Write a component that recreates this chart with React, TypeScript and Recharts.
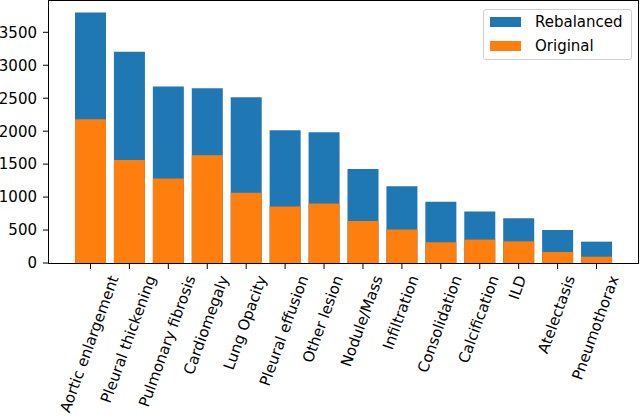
import React from 'react';
import { BarChart, Bar, XAxis, YAxis } from 'recharts';

const categories = [
  'Aortic enlargement', 'Pleural thickening', 'Pulmonary fibrosis', 'Cardiomegaly',
  'Lung Opacity', 'Pleural effusion', 'Other lesion', 'Nodule/Mass', 'Infiltration',
  'Consolidation', 'Calcification', 'ILD', 'Atelectasis', 'Pneumothorax',
];
const rebalanced = [3799, 3205, 2679, 2653, 2516, 2014, 1983, 1425, 1166, 928, 781, 679, 502, 324];
const original = [2181, 1562, 1283, 1633, 1065, 857, 903, 639, 507, 314, 355, 329, 167, 96];
const yTicks = [0, 500, 1000, 1500, 2000, 2500, 3000, 3500];
const seriesNames = ['Rebalanced', 'Original'];
const seriesColors = ['#1f77b4', '#ff7f0e'];

const rows = categories.map((name, i) => ({ name, rebalanced: rebalanced[i], original: original[i] }));

const FONT = 'DejaVu Sans';
const FS = 15;
const COS = Math.cos((70 * Math.PI) / 180);
const SIN = Math.sin((70 * Math.PI) / 180);

let ctx: CanvasRenderingContext2D | null = null;
function measure(s: string) {
  if (!ctx) {
    ctx = document.createElement('canvas').getContext('2d');
    if (ctx) ctx.font = `${FS}px "${FONT}"`;
  }
  return ctx ? ctx.measureText(s).width : s.length * 8.5;
}

// rotated label, bounding box centred on the tick like matplotlib ha='center'
function RotTick(props: any) {
  const { x, y, payload } = props;
  const s = String(payload.value);
  const L = measure(s);
  const a = FS * 0.76;
  const d = FS * 0.24;
  const tx = x - (L * COS + d * SIN - a * SIN) / 2;
  const ty = y + L * SIN + a * COS;
  return (
    <text x={0} y={0} transform={`translate(${tx},${ty}) rotate(-70)`} fontSize={FS} fontFamily={FONT} fill="#000">
      {s}
    </text>
  );
}

export default function App() {
  return (
    <div style={{ position: 'absolute', left: 0, top: 0, width: 640, height: 416, background: '#fff', fontFamily: FONT, overflow: 'hidden' }}>
      <BarChart width={640} height={416} data={rows} margin={{ top: 1, right: 2, left: 0, bottom: 0 }} barSize={31} barGap={-31}>
        <XAxis
          dataKey="name"
          interval={0}
          height={153}
          padding={{ left: 22, right: 22 }}
          axisLine={false}
          stroke="#000"
          tickSize={6}
          tickMargin={5}
          tick={<RotTick />}
        />
        <YAxis
          width={49}
          domain={[0, 3975]}
          ticks={yTicks}
          axisLine={false}
          stroke="#000"
          tickSize={6}
          tickMargin={6}
          tick={{ fill: '#000', fontSize: FS, fontFamily: FONT }}
        />
        <Bar dataKey="rebalanced" name={seriesNames[0]} fill={seriesColors[0]} isAnimationActive={false} />
        <Bar dataKey="original" name={seriesNames[1]} fill={seriesColors[1]} isAnimationActive={false} />
      </BarChart>

      {/* axes frame */}
      <div style={{ position: 'absolute', left: 48, top: 0, width: 591, height: 264, border: '1px solid #000', boxSizing: 'border-box', pointerEvents: 'none' }} />

      {/* legend */}
      <div
        style={{
          position: 'absolute', left: 483, top: 9, width: 149, height: 51, boxSizing: 'border-box',
          border: '1px solid #d0d0d0', borderRadius: 3, background: 'rgba(255,255,255,0.8)',
        }}
      >
        {seriesNames.map((n, i) => (
          <div key={n} style={{ position: 'absolute', left: 6, top: 7 + i * 23.5, height: 10, display: 'flex', alignItems: 'center' }}>
            <div style={{ width: 31, height: 10, background: seriesColors[i] }} />
            <span style={{ marginLeft: 14, fontSize: FS, color: '#000', lineHeight: '10px', whiteSpace: 'nowrap' }}>{n}</span>
          </div>
        ))}
      </div>
    </div>
  );
}
